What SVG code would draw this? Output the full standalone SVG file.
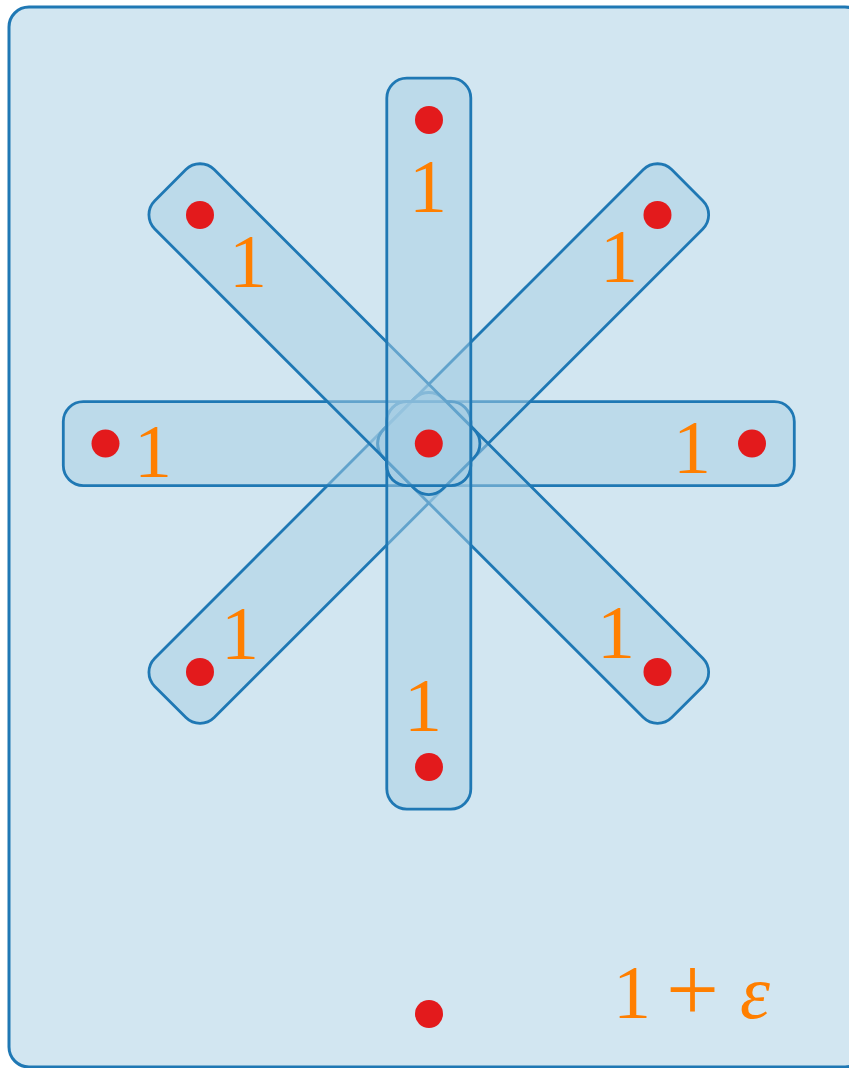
<svg xmlns="http://www.w3.org/2000/svg" width="849" height="1068" viewBox="0 0 849 1068">
<style>
.hull{fill:#a6cee3;fill-opacity:0.5;stroke:#1f78b4;stroke-width:2.8}
.outer{fill:#a6cee3;fill-opacity:0.5;stroke:#1f78b4;stroke-width:3}
.dot{fill:#e31a1c}
.lbl{fill:#ff7f00;font-family:"Liberation Serif","Times New Roman",serif;font-size:76px;text-anchor:middle}
</style>
<defs>
<rect id="bar" x="-42" y="-42" width="407.5" height="84" rx="20" ry="20"/>
</defs>
<g id="outer-set">
<rect class="outer" x="9" y="7" width="856" height="1060" rx="20" ry="20"/>
<text class="lbl" style="text-anchor:start"><tspan x="613" y="1018">1</tspan><tspan x="666" y="1021" style="font-size:94px">+</tspan><tspan x="740" y="1018" style="font-style:italic">ε</tspan></text>
</g>
<g id="edge-dl"><use href="#bar" class="hull" transform="translate(428.8,443.6) rotate(135)"/><text class="lbl" x="240" y="659">1</text></g>
<g id="edge-l"><use href="#bar" class="hull" transform="translate(428.8,443.6) rotate(180)"/><text class="lbl" x="153" y="477">1</text></g>
<g id="edge-r"><use href="#bar" class="hull" transform="translate(428.8,443.6)"/><text class="lbl" x="692" y="473">1</text></g>
<g id="edge-ur"><use href="#bar" class="hull" transform="translate(428.8,443.6) rotate(-45)"/><text class="lbl" x="619" y="282">1</text></g>
<g id="edge-dr"><use href="#bar" class="hull" transform="translate(428.8,443.6) rotate(45)"/><text class="lbl" x="616" y="658">1</text></g>
<g id="edge-b"><use href="#bar" class="hull" transform="translate(428.8,443.6) rotate(90)"/><text class="lbl" x="423" y="731">1</text></g>
<g id="edge-ul"><use href="#bar" class="hull" transform="translate(428.8,443.6) rotate(-135)"/><text class="lbl" x="248" y="287">1</text></g>
<g id="edge-t"><use href="#bar" class="hull" transform="translate(428.8,443.6) rotate(-90)"/><text class="lbl" x="428" y="212">1</text></g>
<g id="v-top"><circle class="dot" cx="429" cy="120" r="14"/></g>
<g id="v-ul"><circle class="dot" cx="200" cy="215" r="14"/></g>
<g id="v-ur"><circle class="dot" cx="657.5" cy="215" r="14"/></g>
<g id="v-l"><circle class="dot" cx="105.5" cy="443.6" r="14"/></g>
<g id="v-c"><circle class="dot" cx="428.8" cy="443.6" r="14"/></g>
<g id="v-r"><circle class="dot" cx="752" cy="443.6" r="14"/></g>
<g id="v-dl"><circle class="dot" cx="200" cy="672" r="14"/></g>
<g id="v-dr"><circle class="dot" cx="657.5" cy="672" r="14"/></g>
<g id="v-b"><circle class="dot" cx="429" cy="767" r="14"/></g>
<g id="v-lone"><circle class="dot" cx="429" cy="1014" r="14"/></g>
</svg>
